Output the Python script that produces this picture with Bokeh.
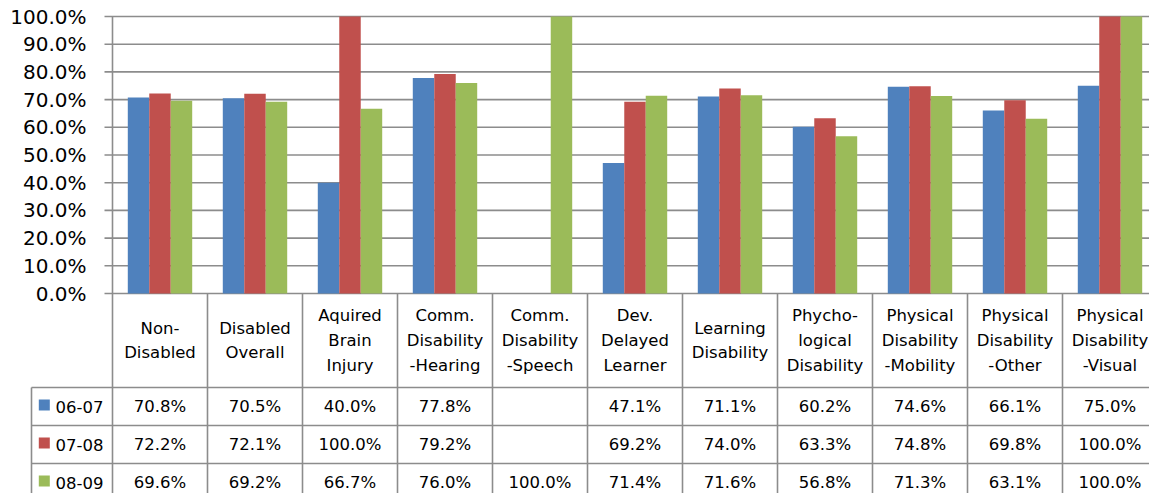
from bokeh.plotting import figure
from bokeh.models import Range1d
from bokeh.core.properties import value
from bokeh.embed import file_html
from bokeh.resources import INLINE

# ---- data ----
categories = ["Non-\nDisabled", "Disabled\nOverall", "Aquired\nBrain\nInjury",
              "Comm.\nDisability\n-Hearing", "Comm.\nDisability\n-Speech",
              "Dev.\nDelayed\nLearner", "Learning\nDisability",
              "Phycho-\nlogical\nDisability", "Physical\nDisability\n-Mobility",
              "Physical\nDisability\n-Other", "Physical\nDisability\n-Visual"]
series_names = ["06-07", "07-08", "08-09"]
s0607 = [70.8, 70.5, 40.0, 77.8, None, 47.1, 71.1, 60.2, 74.6, 66.1, 75.0]
s0708 = [72.2, 72.1, 100.0, 79.2, None, 69.2, 74.0, 63.3, 74.8, 69.8, 100.0]
s0809 = [69.6, 69.2, 66.7, 76.0, 100.0, 71.4, 71.6, 56.8, 71.3, 63.1, 100.0]
y_ticks = [0, 10, 20, 30, 40, 50, 60, 70, 80, 90, 100]
y_tick_labels = [f"{t:.1f}%" for t in y_ticks]

series = [s0607, s0708, s0809]
colors = ["#4F81BD", "#C0504D", "#9BBB59"]

# ---- layout (pixel geometry) ----
W, H = 1149, 493
PXX = 95.0      # px per category
PXY = 2.77      # px per percentage point
n = len(categories)
X0 = 112        # px of plot-area left edge
Y0 = 293        # px of 0% line
x_lo = -X0 / PXX
x_hi = (W - X0) / PXX
y_lo = -(H - Y0) / PXY
y_hi = Y0 / PXY

def px_y(d):  # px below 0% line -> data units
    return -d / PXY

def px_x(d):  # px from left of plot area -> data units
    return d / PXX

GRID = "#8c8c8c"
FONT = value("DejaVu Sans")

p = figure(width=W, height=H, output_backend="svg", toolbar_location=None,
           x_range=Range1d(x_lo, x_hi), y_range=Range1d(y_lo, y_hi),
           x_axis_location=None, y_axis_location=None, min_border=0)
p.outline_line_color = None
p.xgrid.visible = False
p.ygrid.visible = False
p.background_fill_color = "white"
p.border_fill_color = "white"

# gridlines with tick marks
p.segment(x0=[px_x(-8)] * len(y_ticks), x1=[n] * len(y_ticks),
          y0=y_ticks, y1=y_ticks, line_color=GRID, line_width=1.6)
# y axis line (through table)
p.segment(x0=[0], x1=[0], y0=[100], y1=[px_y(208)], line_color=GRID, line_width=1.6)
# category separators in table
p.segment(x0=list(range(1, n + 1)), x1=list(range(1, n + 1)),
          y0=[0] * n, y1=[px_y(208)] * n, line_color=GRID, line_width=1.6)
# table row lines
row_edges = [px_y(94), px_y(132), px_y(170), px_y(208)]
left_col = px_x(31 - X0)
p.segment(x0=[left_col] * len(row_edges), x1=[n] * len(row_edges),
          y0=row_edges, y1=row_edges, line_color=GRID, line_width=1.6)
p.segment(x0=[left_col], x1=[left_col], y0=[row_edges[0]], y1=[row_edges[-1]],
          line_color=GRID, line_width=1.6)

# bars
bw = 0.226
offsets = [-bw, 0, bw]
for s, c, off in zip(series, colors, offsets):
    xs = [i + 0.5 + off for i, v in enumerate(s) if v is not None]
    ys = [v for v in s if v is not None]
    p.vbar(x=xs, top=ys, bottom=0, width=bw, fill_color=c, line_color=None)

# y tick labels
p.text(x=[px_x(86 - X0)] * len(y_ticks), y=y_ticks, text=y_tick_labels,
       text_font=FONT, text_font_size=value("20px"), text_align="right",
       text_baseline="middle", text_color="black")

# header row
p.text(x=[i + 0.5 for i in range(n)], y=[px_y(47)] * n, text=categories,
       text_font=FONT, text_font_size=value("16.5px"), text_align="center",
       text_baseline="middle", text_line_height=1.3, text_color="black")

# table values
row_centers = [(row_edges[k] + row_edges[k + 1]) / 2 for k in range(3)]
for s, yc in zip(series, row_centers):
    labels = ["" if v is None else f"{v:.1f}%" for v in s]
    p.text(x=[i + 0.5 for i in range(n)], y=[yc] * n, text=labels,
           text_font=FONT, text_font_size=value("16.5px"), text_align="center",
           text_baseline="middle", text_color="black")

# legend keys
p.scatter(x=[px_x(43.8 - X0)] * 3, y=[yc + 1.5 / PXY for yc in row_centers],
          marker="square", size=11, fill_color=colors, line_color=None)
p.text(x=[px_x(55 - X0)] * 3, y=row_centers, text=series_names,
       text_font=FONT, text_font_size=value("16.5px"), text_align="left",
       text_baseline="middle", text_color="black")

open("out.html", "w").write(file_html(p, INLINE))
